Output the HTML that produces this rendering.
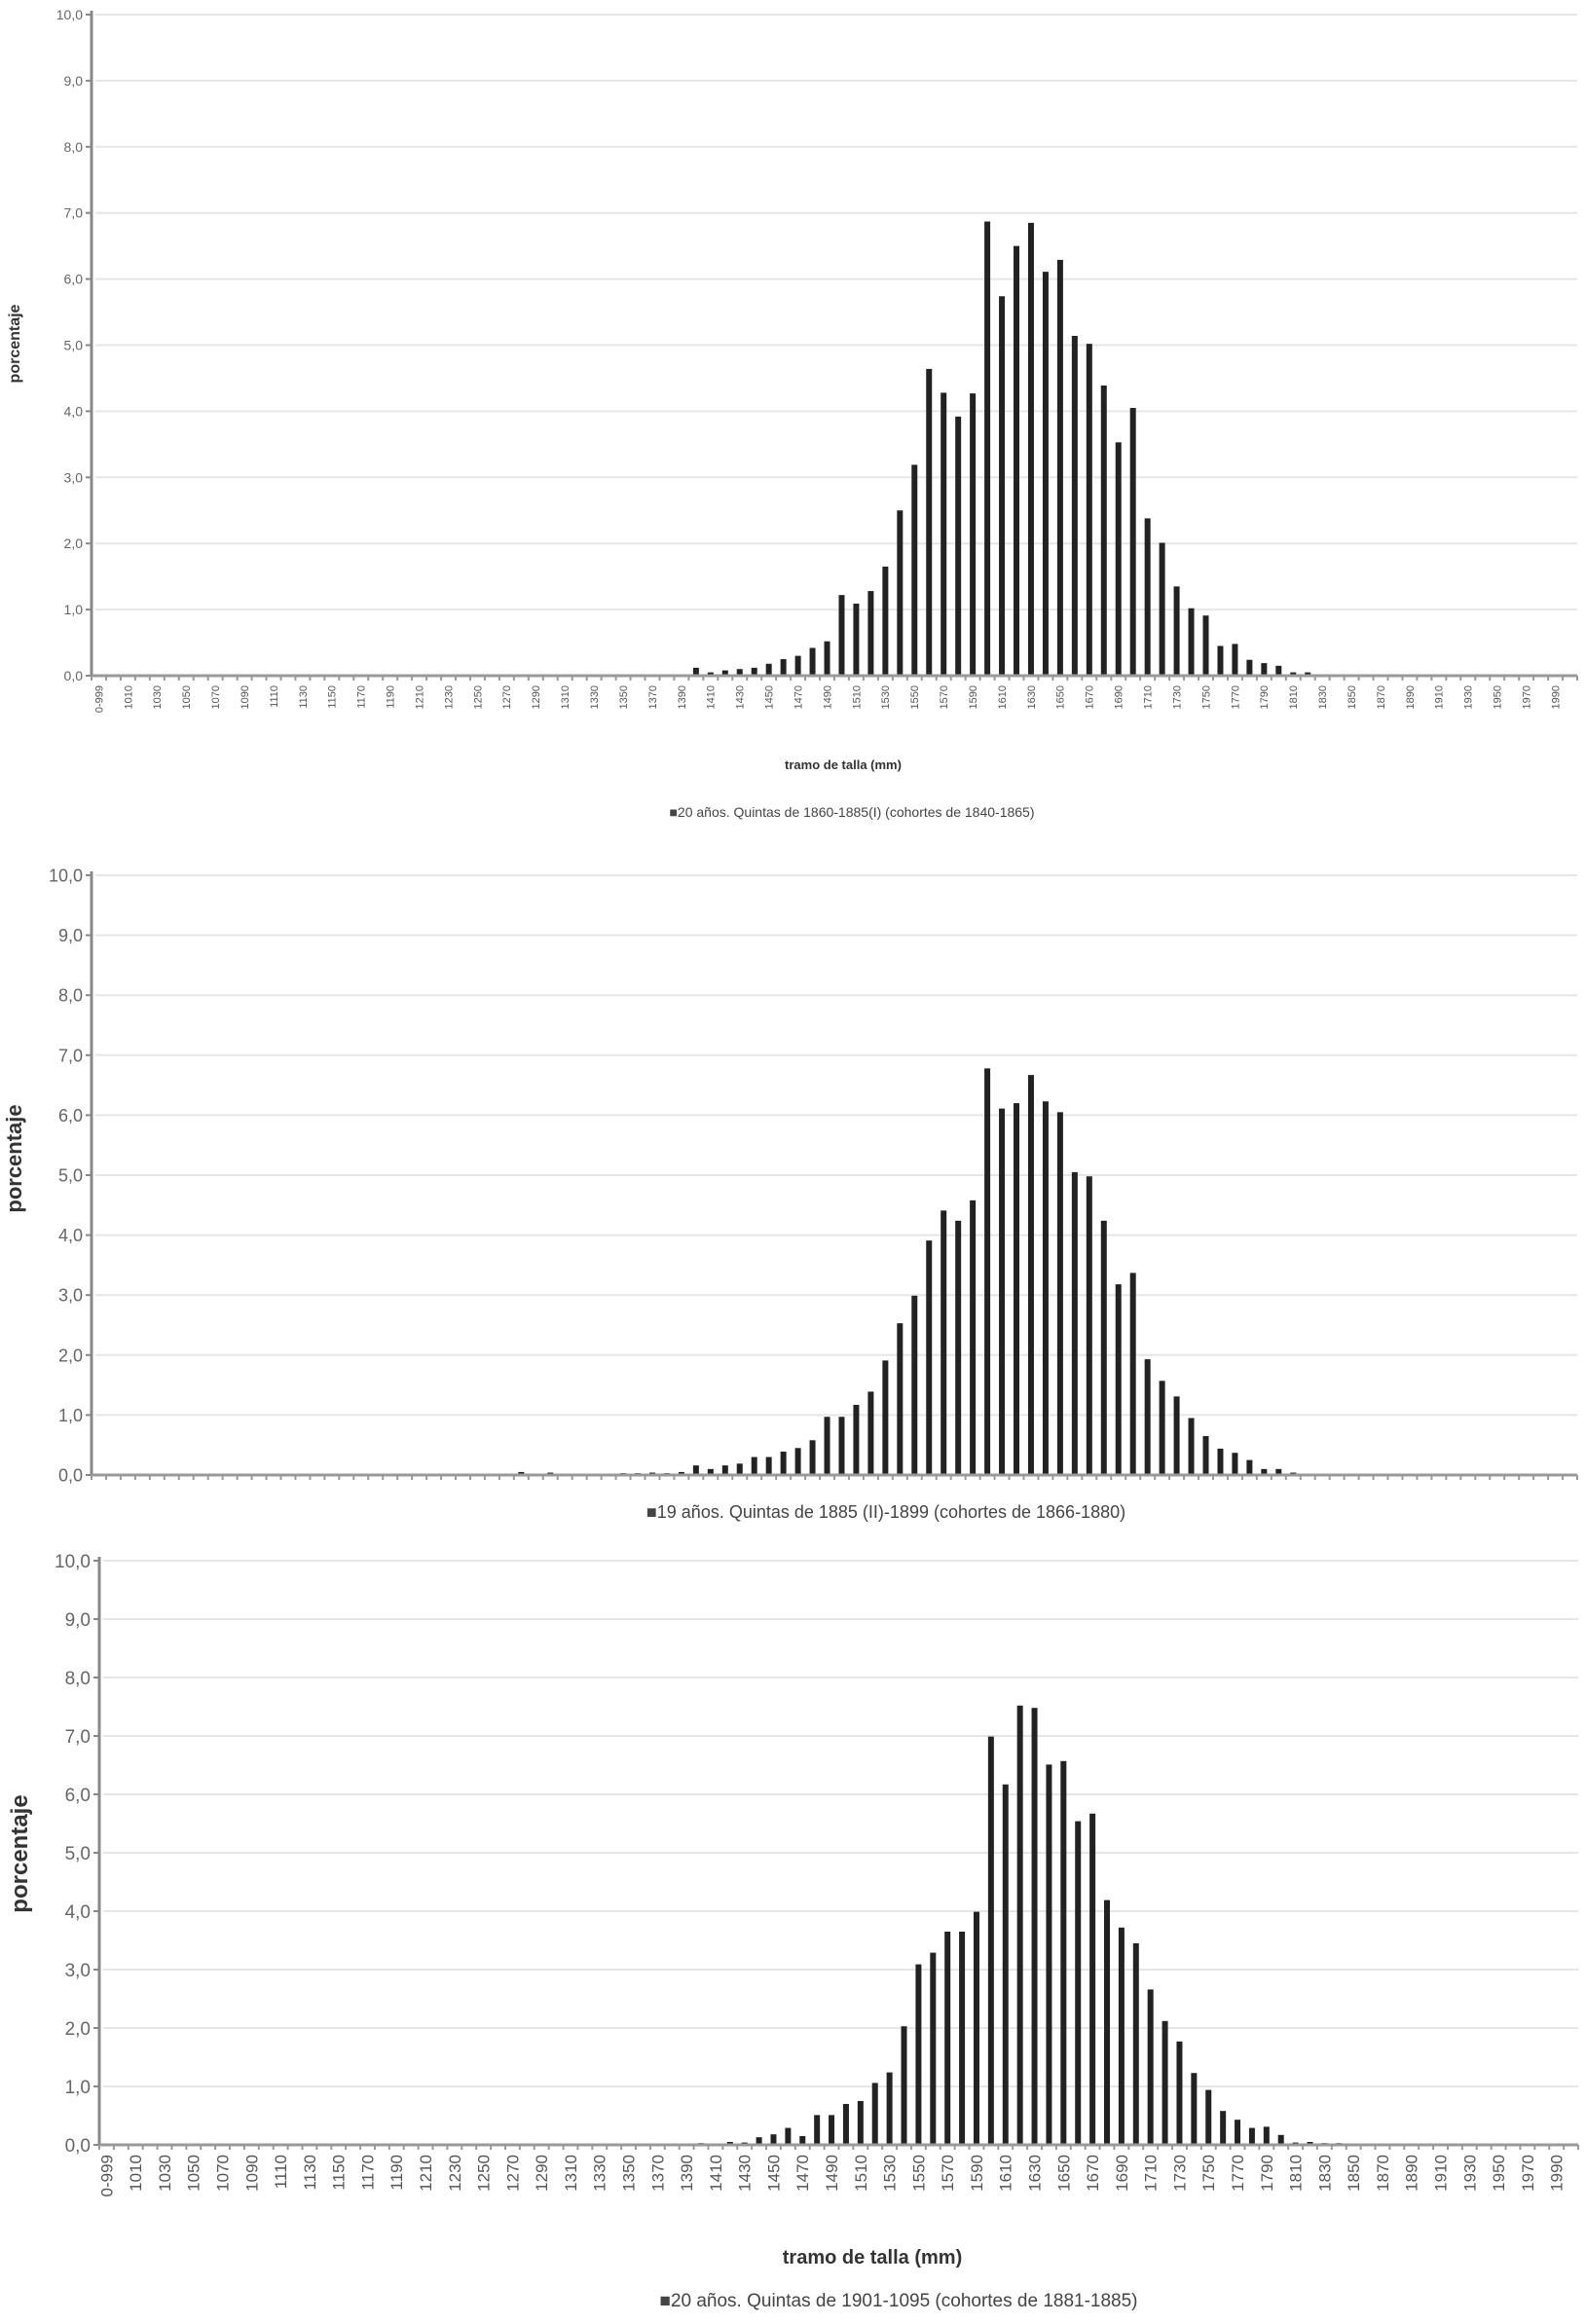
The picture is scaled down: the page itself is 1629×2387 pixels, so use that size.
<!DOCTYPE html>
<html><head><meta charset="utf-8">
<style>
html,body{margin:0;padding:0;background:#fff;}
svg{display:block;font-family:"Liberation Sans",Arial,sans-serif;}
</style></head>
<body>
<svg id="fig" width="1629" height="2387" viewBox="0 0 1629 2387" xmlns="http://www.w3.org/2000/svg"></svg>
<script>
// ---- data ----
const yTicks = [0,1,2,3,4,5,6,7,8,9,10];
const categories = ["0-999"];
for (let v = 1000; v <= 2000; v += 10) categories.push(String(v));

const values1 = [
0,0,0,0,0,0,0,0,0,0,
0,0,0,0,0,0,0,0,0,0,
0,0,0,0,0,0,0,0,0,0,
0,0,0,0,0,0,0,0,0,0,
0,0.12,0.05,0.08,0.1,0.12,0.18,0.25,0.3,0.42,
0.52,1.22,1.09,1.28,1.65,2.5,3.19,4.64,4.28,3.92,
4.27,6.87,5.74,6.5,6.85,6.11,6.29,5.14,5.02,4.39,
3.53,4.05,2.38,2.01,1.35,1.02,0.91,0.45,0.48,0.24,
0.19,0.15,0.05,0.05,0.02,0.02,0,0,0,0,
0,0,0,0,0,0,0,0,0,0,
0,0];
const values2 = [
0,0,0,0,0,0,0,0,0,0,
0,0,0,0,0,0,0,0,0,0,
0,0,0,0,0,0,0,0,0,0.05,
0,0.04,0.02,0.02,0.02,0.02,0.03,0.03,0.04,0.03,
0.05,0.16,0.1,0.16,0.19,0.3,0.3,0.39,0.45,0.58,
0.97,0.97,1.17,1.39,1.91,2.53,2.99,3.91,4.41,4.24,
4.58,6.78,6.11,6.2,6.67,6.23,6.05,5.05,4.98,4.24,
3.18,3.37,1.93,1.57,1.31,0.95,0.65,0.44,0.37,0.25,
0.1,0.1,0.04,0.02,0.02,0,0,0,0,0,
0,0,0,0,0,0,0,0,0,0,
0,0];
const values3 = [
0,0,0,0,0,0,0,0,0,0,
0,0,0,0,0,0,0,0,0,0,
0,0,0,0,0,0,0,0,0,0,
0,0,0,0,0,0,0,0,0,0,
0,0.03,0.02,0.05,0.04,0.13,0.18,0.29,0.15,0.51,
0.51,0.7,0.75,1.06,1.24,2.03,3.09,3.29,3.65,3.65,
3.99,6.99,6.17,7.52,7.48,6.51,6.57,5.54,5.67,4.19,
3.72,3.45,2.66,2.12,1.77,1.23,0.94,0.58,0.43,0.29,
0.31,0.17,0.04,0.05,0.03,0.03,0,0,0,0,
0,0,0,0,0,0,0,0,0,0,
0,0];

const NS = "http://www.w3.org/2000/svg";
const svg = document.getElementById("fig");
function mk(tag, attrs, parent) {
  const e = document.createElementNS(NS, tag);
  for (const k in attrs) e.setAttribute(k, attrs[k]);
  (parent || svg).appendChild(e);
  return e;
}

function drawChart(cfg) {
  const g = mk("g", {});
  
  
  const n = categories.length;
  const cw = (cfg.x1 - cfg.x0) / n;
  const yScale = v => cfg.yBase - (v / 10) * (cfg.yBase - cfg.yTop);
  const xScale = i => cfg.x0 + (i + 0.5) * cw;
  // gridlines + y tick labels
  yTicks.forEach(t => {
    const y = yScale(t);
    if (t > 0) {
      const gl = mk("line", {x1: cfg.x0 + 4, x2: cfg.x1, y1: y, y2: y, stroke: "#e6e6e6", "stroke-width": 2}, g);
      
      
    }
    const tk = mk("line", {x1: cfg.x0 - 6, x2: cfg.x0, y1: y, y2: y, stroke: "#888", "stroke-width": 2}, g);
    
    
    const lb = mk("text", {x: cfg.x0 - 9, y: y + cfg.yFont * 0.36, "font-size": cfg.yFont, fill: "#666", "text-anchor": "end"}, g);
    lb.textContent = t.toFixed(1).replace(".", ",");
    
    
  });
  // bars
  cfg.values.forEach((v, i) => {
    if (v <= 0) return;
    const x = xScale(i);
    const b = mk("rect", {x: x - 3, y: yScale(v), width: 6, height: cfg.yBase - yScale(v), fill: "#222"}, g);
    
    
  });
  // axes
  const ya = mk("line", {x1: cfg.x0, x2: cfg.x0, y1: cfg.yTop - 4, y2: cfg.yBase + 1, stroke: "#888", "stroke-width": 3}, g);
  
  
  const xa = mk("line", {x1: cfg.x0, x2: cfg.x1, y1: cfg.yBase, y2: cfg.yBase, stroke: "#999", "stroke-width": 3}, g);
  
  
  for (let i = 0; i <= n; i++) {
    const x = cfg.x0 + i * cw;
    const xt = mk("line", {x1: x, x2: x, y1: cfg.yBase, y2: cfg.yBase + 5, stroke: "#999", "stroke-width": 2}, g);
    
    
  }
  // x tick labels
  if (cfg.xFont) {
    categories.forEach((c, i) => {
      if (i % 2 !== 0) return;
      const x = xScale(i);
      const y = cfg.yBase + 10;
      const t = mk("text", {x: x + cfg.xFont * 0.35, y: y, "font-size": cfg.xFont, fill: "#555", "text-anchor": "end", transform: `rotate(-90 ${x + cfg.xFont * 0.35} ${y})`}, g);
      t.textContent = c;
      
      
    });
  }
  // y-axis title
  const yt = mk("text", {x: cfg.ytX, y: cfg.ytY, "font-size": cfg.ytFont, "font-weight": "bold", fill: "#333", "text-anchor": "middle", transform: `rotate(-90 ${cfg.ytX} ${cfg.ytY})`}, g);
  yt.textContent = "porcentaje";
  
  
  // x-axis title
  if (cfg.xtFont) {
    const xt = mk("text", {x: cfg.xtX, y: cfg.xtY, "font-size": cfg.xtFont, "font-weight": "bold", fill: "#333", "text-anchor": "middle"}, g);
    xt.textContent = "tramo de talla (mm)";
    
    
  }
  // legend
  const lg = mk("text", {x: cfg.lgX, y: cfg.lgY, "font-size": cfg.lgFont, fill: "#444", "text-anchor": "middle"}, g);
  lg.textContent = "\u25A0" + cfg.legend;
  
  
}

drawChart({name: "chart-1860-1885", values: values1, x0: 94, x1: 1620, yTop: 15, yBase: 694,
  yFont: 14, xFont: 11, ytX: 20, ytY: 353, ytFont: 16, xtFont: 13, xtX: 866, xtY: 790,
  lgX: 875, lgY: 839, lgFont: 14, legend: "20 años. Quintas de 1860-1885(I) (cohortes de 1840-1865)"});
drawChart({name: "chart-1885-1899", values: values2, x0: 94, x1: 1620, yTop: 899, yBase: 1515,
  yFont: 18, xFont: 0, ytX: 22, ytY: 1190, ytFont: 22, xtFont: 0,
  lgX: 910, lgY: 1559, lgFont: 18, legend: "19 años. Quintas de 1885 (II)-1899 (cohortes de 1866-1880)"});
drawChart({name: "chart-1901-1905", values: values3, x0: 102, x1: 1621, yTop: 1603, yBase: 2203,
  yFont: 19, xFont: 17, ytX: 28, ytY: 1904, ytFont: 24, xtFont: 20, xtX: 896, xtY: 2325,
  lgX: 923, lgY: 2369, lgFont: 19, legend: "20 años. Quintas de 1901-1095 (cohortes de 1881-1885)"});
</script>
</body></html>
